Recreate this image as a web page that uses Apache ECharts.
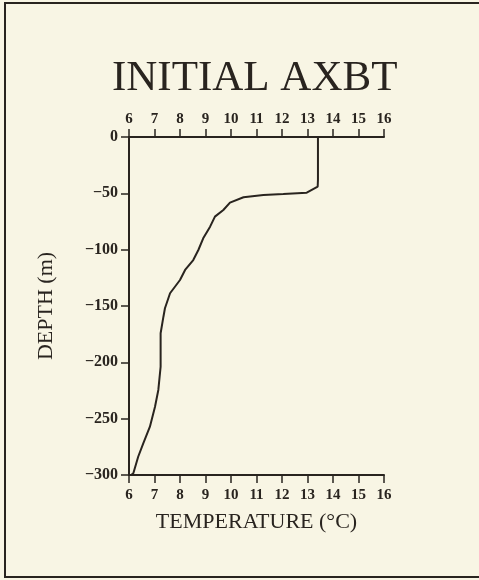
<!DOCTYPE html>
<html>
  <head>
    <meta charset="utf-8" />
    <title>Initial AXBT</title>
    <script src="https://cdn.jsdelivr.net/npm/echarts@6/dist/echarts.min.js"></script>
  </head>
  <body style="margin:0;background:#f8f5e4;">
    <div id="chart" style="width:479px;height:580px;"></div>
    <script type="text/javascript">
      // temperature profile
      var temps = [13.41, 13.41, 13.40, 12.97, 12.05, 11.27, 10.49, 9.96, 9.70, 9.37, 9.18, 8.91, 8.72, 8.52, 8.20, 8.00, 7.61, 7.41, 7.35, 7.24, 7.24, 7.15, 7.02, 6.82, 6.56, 6.36, 6.17, 6.08];
      var depths = [0, -38, -44, -49.4, -50.6, -51.5, -53.5, -58.3, -64.8, -70.7, -79.6, -89.9, -100.3, -109.2, -118.0, -126.9, -138.7, -152.0, -159.5, -174.2, -203.9, -224.5, -239.4, -257.1, -271.9, -283.8, -298.5, -300];
      var titleText = 'INITIAL AXBT';
      var xName = 'TEMPERATURE (\u00b0C)';
      var yName = 'DEPTH (m)';

      var ink = '#29241f';
      var serif = '"Liberation Serif", "DejaVu Serif", serif';
      var profile = temps.map(function (t, i) { return [t, depths[i]]; });

      function tempAxis(pos, name, margin) {
        return {
          type: 'value', position: pos, min: 6, max: 16, interval: 1,
          name: name, nameLocation: 'middle', nameGap: 36,
          nameTextStyle: { color: ink, fontFamily: serif, fontSize: 22 },
          axisLine: { show: true, onZero: false, lineStyle: { color: ink, width: 2 } },
          axisTick: { show: true, length: 8, lineStyle: { color: ink, width: 1.5 } },
          axisLabel: { color: ink, fontFamily: serif, fontSize: 15, fontWeight: 'bold', margin: margin },
          splitLine: { show: false }
        };
      }

      var chart = echarts.init(document.getElementById('chart'));
      chart.setOption({
        backgroundColor: '#f8f5e4',
        animation: false,
        title: {
          text: titleText, left: 112, top: 57, padding: 0,
          textStyle: { color: ink, fontFamily: serif, fontSize: 43, fontWeight: 'normal' }
        },
        grid: { left: 129, right: 95, top: 137, bottom: 105 },
        xAxis: [tempAxis('bottom', xName, 13), tempAxis('top', '', 10)],
        yAxis: {
          type: 'value', min: -300, max: 0, interval: 50,
          name: yName, nameLocation: 'middle', nameGap: 72,
          nameTextStyle: { color: ink, fontFamily: serif, fontSize: 22 },
          axisLine: { show: true, lineStyle: { color: ink, width: 2 } },
          axisTick: { show: true, length: 8, lineStyle: { color: ink, width: 1.5 } },
          axisLabel: {
            color: ink, fontFamily: serif, fontSize: 16, fontWeight: 'bold', margin: 11,
            formatter: function (v) { return String(v).replace('-', '\u2212'); }
          },
          splitLine: { show: false }
        },
        graphic: [
          { type: 'polyline', shape: { points: [[479, 3], [5, 3], [5, 577], [479, 577]] }, style: { stroke: ink, lineWidth: 2, fill: null } }
        ],
        series: [{
          type: 'line', xAxisIndex: 0, data: profile, showSymbol: false,
          lineStyle: { color: ink, width: 2 }
        }]
      });
    </script>
  </body>
</html>
